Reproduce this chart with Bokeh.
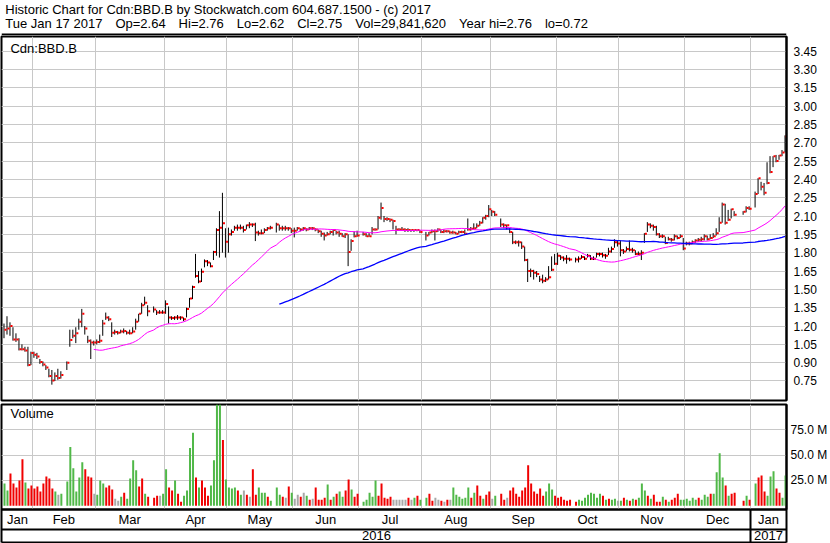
import pandas as pd
from bokeh.plotting import figure
from bokeh.layouts import column
from bokeh.models import (ColumnDataSource, FixedTicker, Label, LinearAxis,
                          PrintfTickFormatter, Range1d, Span)
from bokeh.embed import file_html
from bokeh.resources import INLINE

FONT = "Liberation Sans"
GAP = "\u2002\u2002"  # wide field separator that survives SVG whitespace collapsing

HEADER_LINE_1 = "Historic Chart for Cdn:BBD.B by Stockwatch.com 604.687.1500 - (c) 2017"
HEADER_LINE_2 = GAP.join(["Tue Jan 17 2017", "Op=2.64", "Hi=2.76", "Lo=2.62", "Cl=2.75",
                          "Vol=29,841,620", "Year hi=2.76", "lo=0.72"])
SYMBOL = "Cdn:BBD.B"

# one slot per weekday on the time axis; market holidays keep an empty slot
MONTH_LABELS = ["Jan", "Feb", "Mar", "Apr", "May", "Jun", "Jul",
                "Aug", "Sep", "Oct", "Nov", "Dec", "Jan"]
MONTH_SLOTS = [10, 21, 23, 21, 22, 22, 21, 23, 22, 21, 22, 22, 12]
YEAR_LABELS = ["2016", "2017"]
YEAR_MONTHS = [12, 1]

PRICE_TICKS = [0.75, 0.90, 1.05, 1.20, 1.35, 1.50, 1.65, 1.80, 1.95, 2.10,
               2.25, 2.40, 2.55, 2.70, 2.85, 3.00, 3.15, 3.30, 3.45]
VOLUME_TICKS = [25, 50, 75]
VOLUME_TICK_LABELS = ["25.0 M", "50.0 M", "75.0 M"]

# daily high / low / close, None on holidays
HIGH = [
    1.22, 1.28, 1.23, 1.19, 1.14, 1.10, 1.05, 1.03, 1.03, 0.99,
    0.99, 0.98, 0.93, 0.91, 0.88, 0.85, 0.84, 0.82, 0.85, 0.83, None,
    0.91, 1.17, 1.17, 1.19, 1.26, 1.34, 1.20, 1.12, 1.09, 1.08,
    1.09, 1.13, 1.25, 1.31, 1.28, 1.23, 1.17, 1.16, 1.17, 1.18, 1.16, 1.17,
    1.19, 1.26, 1.30, 1.39, 1.44, 1.37, None, 1.36, 1.33, 1.33, 1.33,
    1.41, 1.36, 1.28, 1.28, 1.29, 1.28, 1.27, 1.35, 1.43, 1.53, 1.79, 1.65,
    1.67, 1.745, 1.74, 1.72, 1.815, 2.00, 2.14, 2.29, 2.00,
    2.005, 1.99, 2.02, 2.03, 2.03, 2.02, 2.03, 2.05, 2.04, 2.045, 1.98, 1.99,
    2.00, 2.01, 2.02, None, 2.045, 2.03, 2.02, 2.02, 2.01, 2.00,
    2.005, 2.01, 2.00, 2.01, 2.00, 2.01, 2.01, 2.00, 1.99, 1.98, 1.965, 1.97,
    1.98, 1.99, 1.98, 1.98, 1.96, 1.96, 1.95, 1.91, 1.975, 1.98,
    None, 1.97, 1.96, 1.96, 2.01, 2.00, 2.10, 2.21, 2.10, 2.09, 2.08, 2.07,
    2.02, 2.00, 2.01, 2.00, 2.00, 1.99, 1.99, 1.99, 1.985,
    None, 1.97, 1.97, 1.99, 1.99, 2.00, 1.99, 1.99, 1.985, 1.98, 1.98, 1.97,
    1.98, 1.98, 1.99, 2.08, 2.01, 2.04, 2.04, 2.06, 2.09, 2.11, 2.19,
    2.15, 2.14, None, 2.08, 2.04, 2.03, 2.00, 1.97, 1.90, 1.90, 1.89, 1.85,
    1.75, 1.67, 1.66, 1.65, 1.61, 1.62, 1.60, 1.69, 1.77, 1.79,
    1.80, 1.78, 1.77, 1.78, 1.76, None, 1.76, 1.77, 1.78, 1.77, 1.79, 1.78,
    1.77, 1.80, 1.80, 1.80, 1.79, 1.84, 1.85, 1.91, 1.90,
    1.90, 1.83, 1.85, 1.90, 1.84, 1.82, 1.81, 1.82, 1.96, 2.05, 2.04, 2.03,
    2.02, 1.96, 1.95, 1.93, 1.93, 1.92, 1.95, 1.94, 1.95, 1.92,
    1.89, 1.89, 1.90, 1.91, 1.92, 1.93, 1.95, 1.94, 1.95, 1.96, 2.00, 2.09,
    2.21, 2.20, 2.15, 2.16, 2.14, None, None, 2.14, 2.18, 2.18,
    None, 2.30, 2.41, 2.38, 2.37, 2.54, 2.59, 2.59, 2.60, 2.60, 2.64, 2.76,
]
LOW = [
    1.10, 1.13, 1.12, 1.08, 1.07, 1.00, 1.00, 0.99, 0.87, 0.88,
    0.94, 0.93, 0.89, 0.87, 0.84, 0.78, 0.72, 0.75, 0.76, 0.77, None,
    0.84, 1.03, 1.10, 1.06, 1.17, 1.19, 1.13, 1.06, 0.93, 1.04,
    1.05, 1.06, 1.12, 1.25, 1.24, 1.11, 1.13, 1.13, 1.14, 1.14, 1.13, 1.13,
    1.14, 1.17, 1.235, 1.30, 1.37, 1.28, None, 1.31, 1.29, 1.30, 1.30,
    1.30, 1.22, 1.25, 1.25, 1.25, 1.25, 1.24, 1.27, 1.35, 1.42, 1.595, 1.55,
    1.56, 1.68, 1.69, 1.68, 1.74, 1.775, 1.76, 1.80, 1.76,
    1.80, 1.94, 1.98, 1.98, 1.99, 1.965, 1.99, 2.00, 2.01, 1.895, 1.94, 1.95,
    1.96, 1.98, 1.99, None, 1.965, 1.98, 1.98, 1.98, 1.98, 1.96,
    1.925, 1.98, 1.975, 1.98, 1.975, 1.985, 1.985, 1.975, 1.96, 1.93, 1.90,
    1.94, 1.95, 1.94, 1.95, 1.93, 1.93, 1.92, 1.69, 1.815, 1.925, 1.93,
    None, 1.94, 1.93, 1.93, 1.95, 1.98, 1.99, 2.07, 2.05, 2.06, 2.05, 1.99,
    1.95, 1.98, 1.98, 1.97, 1.97, 1.97, 1.97, 1.975, 1.96,
    None, 1.90, 1.94, 1.96, 1.90, 1.97, 1.96, 1.96, 1.965, 1.955, 1.955, 1.95,
    1.955, 1.96, 1.95, 1.98, 1.98, 1.99, 2.00, 2.02, 2.04, 2.07, 2.09,
    2.10, 2.10, None, 2.01, 2.00, 1.99, 1.96, 1.87, 1.87, 1.85, 1.83, 1.73,
    1.56, 1.60, 1.58, 1.60, 1.56, 1.55, 1.56, 1.58, 1.65, 1.70,
    1.70, 1.74, 1.73, 1.71, 1.73, None, 1.72, 1.72, 1.75, 1.74, 1.76, 1.74,
    1.74, 1.76, 1.77, 1.76, 1.75, 1.78, 1.80, 1.84, 1.85,
    1.77, 1.79, 1.81, 1.81, 1.80, 1.78, 1.78, 1.74, 1.88, 1.97, 2.00, 1.98,
    1.94, 1.92, 1.92, 1.87, 1.90, 1.89, 1.90, 1.91, 1.92, 1.82,
    1.86, 1.86, 1.87, 1.88, 1.89, 1.89, 1.90, 1.90, 1.91, 1.92, 1.94, 1.97,
    2.045, 2.03, 2.06, 2.08, 2.10, None, None, 2.11, 2.13, 2.15,
    None, 2.17, 2.28, 2.31, 2.27, 2.36, 2.45, 2.50, 2.54, 2.56, 2.59, 2.62,
]
CLOSE = [
    1.17, 1.18, 1.20, 1.09, 1.09, 1.01, 1.01, 1.00, 0.88, 0.98,
    0.965, 0.95, 0.905, 0.885, 0.86, 0.79, 0.755, 0.79, 0.775, 0.80, None,
    0.90, 1.085, 1.12, 1.14, 1.235, 1.30, 1.18, 1.08, 1.065, 1.065,
    1.07, 1.08, 1.22, 1.27, 1.255, 1.145, 1.15, 1.145, 1.155, 1.16, 1.145, 1.14,
    1.155, 1.235, 1.30, 1.37, 1.39, 1.32, None, 1.335, 1.31, 1.31, 1.31,
    1.38, 1.27, 1.265, 1.27, 1.27, 1.27, 1.255, 1.34, 1.425, 1.52, 1.61, 1.565,
    1.645, 1.73, 1.72, 1.69, 1.805, 1.985, 2.005, 2.04, 1.89,
    1.95, 1.97, 2.005, 2.005, 2.005, 1.985, 2.025, 2.03, 2.03, 1.965, 1.96,
    1.96, 1.985, 2.00, 2.005, None, 2.03, 2.00, 2.00, 2.00, 2.00, 1.98,
    1.98, 2.00, 1.99, 2.00, 1.99, 2.00, 2.00, 1.99, 1.975, 1.955, 1.94, 1.95,
    1.97, 1.985, 1.965, 1.955, 1.935, 1.95, 1.805, 1.895, 1.935, 1.94,
    None, 1.95, 1.935, 1.935, 1.99, 1.99, 2.085, 2.165, 2.075, 2.075, 2.07,
    2.06, 1.99, 1.99, 1.99, 1.985, 1.985, 1.985, 1.985, 1.985, 1.97,
    None, 1.94, 1.965, 1.975, 1.975, 1.99, 1.97, 1.975, 1.975, 1.965, 1.965,
    1.955, 1.97, 1.97, 1.955, 1.99, 1.995, 2.00, 2.02, 2.045, 2.085, 2.10, 2.155,
    2.135, 2.11, None, 2.03, 2.025, 2.025, 1.97, 1.885, 1.885, 1.885, 1.85,
    1.74, 1.65, 1.65, 1.635, 1.625, 1.58, 1.57, 1.58, 1.60, 1.66, 1.71,
    1.775, 1.76, 1.75, 1.75, 1.745, None, 1.745, 1.75, 1.765, 1.75, 1.775,
    1.75, 1.75, 1.79, 1.79, 1.78, 1.775, 1.81, 1.83, 1.885, 1.875,
    1.82, 1.81, 1.83, 1.825, 1.82, 1.79, 1.79, 1.80, 1.955, 2.03, 2.02, 2.01,
    1.95, 1.935, 1.935, 1.88, 1.91, 1.905, 1.935, 1.92, 1.935, 1.835,
    1.875, 1.875, 1.885, 1.90, 1.905, 1.91, 1.935, 1.91, 1.92, 1.935, 1.96,
    2.045, 2.195, 2.045, 2.07, 2.155, 2.11, None, None, 2.135, 2.165, 2.16,
    None, 2.28, 2.41, 2.34, 2.29, 2.37, 2.46, 2.59, 2.55, 2.595, 2.62, 2.75,
]
# daily volume in millions of shares
VOLUME_M = [
    22, 15, 32, 22, 18, 25, 46, 23, 17, 20,
    17, 19, 14, 22, 29, 27, 17, 14, 11, 12, None,
    24, 58, 37, 14, 28, 43, 36, 29, 28, 12,
    11, 25, 22, 18, 20, 16, 7, 5, 9, 13, 7, 27, 45, 35, 19, 27, 12, 9, None,
    8, 10, 10, 12,
    36, 18, 15, 25, 12, 4, 10, 15, 57, 72, 28, 18, 25, 18, 10, 20, 45, 105,
    110, 65, 26,
    18, 17, 18, 15, 11, 15, 11, 9, 36, 11, 18, 13, 13, 9, 5, None,
    18, 11, 9, 8, 19, 13,
    7, 11, 9, 13, 10, 6, 7, 18, 6, 6, 8, 21, 6, 9, 12, 14, 9, 15, 26, 16, 9, 12,
    None, 4, 6, 13, 9, 25, 10, 22, 8, 7, 9, 6, 6, 6, 6, 6, 8, 6, 8, 10, 6,
    None, 8, 12, 5, 8, 6, 5, 4, 6, 6, 18, 11, 9, 7, 8, 18, 8, 13, 20, 10, 7,
    11, 14,
    7, 10, None, 12, 6, 8, 15, 18, 12, 9, 15, 18, 40, 22, 14, 12, 17, 10, 14,
    22, 16, 10,
    8, 9, 6, 5, 6, None, 4, 6, 5, 8, 11, 13, 12, 8, 12, 10, 6, 7, 6, 7, 5,
    5, 8, 6, 5, 7, 6, 8, 22, 15, 10, 7, 11, 4, 4, 9, 6, 4, 6, 8, 12, 6, 6,
    7, 5, 8, 6, 8, 6, 11, 9, 12, 12, 33, 52, 28, 20, 10, 12, 13, None, None,
    5, 10, 6,
    None, 22, 28, 30, 14, 10, 29, 34, 17, 13, 8, 29.84162,
]
# volume bar tone: g = up day, r = down day, n = unchanged, - = holiday
VOL_TONE = list(
    "ggrrrrrgrr"
    "rrrrrrrgng-ggggggrrrn"
    "gggrrrnngrggggrrgr-rrng"
    "grrgrrggggrgrrrggggrg"
    "gggrgnrnrrgggrg-ggrnrg"
    "nnrngrnrrrrgrgrggrrgrr"
    "-gggggrrrrrnnnnnrngrg"
    "-grrnnrnrnggggggrgrrgrr"
    "ng-rrnrrrrrrrrrrrrgggr"
    "rrrrr-rggggggggrgrggn"
    "grgrgrgggrgrrrgrgrrrgg"
    "ggggrgggrggggrgrr--rgr"
    "-grrrgggrrgg"
)

TONE_COLOURS = {"g": "#50B848", "r": "#F00000", "n": "#A8A8A8"}
GRID = "#C8C8C8"

n_slots = sum(MONTH_SLOTS)
slots = list(range(n_slots))

month_starts = [0]
for n in MONTH_SLOTS:
    month_starts.append(month_starts[-1] + n)
month_edges = [s - 0.5 for s in month_starts[1:-1]]
month_centres = [s + n / 2 - 0.5 for s, n in zip(month_starts, MONTH_SLOTS)]

year_slots, k = [], 0
for m in YEAR_MONTHS:
    year_slots.append(sum(MONTH_SLOTS[k:k + m]))
    k += m
year_starts = [0]
for n in year_slots:
    year_starts.append(year_starts[-1] + n)
year_edges = [s - 0.5 for s in year_starts[1:-1]]
year_centres = [s + n / 2 - 0.5 for s, n in zip(year_starts, year_slots)]

df = pd.DataFrame({"x": slots, "high": HIGH, "low": LOW, "close": CLOSE,
                   "vol": VOLUME_M, "tone": VOL_TONE})
df[["high", "low", "close", "vol"]] = df[["high", "low", "close", "vol"]].astype(float)
trades = df.dropna(subset=["close"]).copy()
trades["ma30"] = trades["close"].rolling(30).mean()
trades["ma90"] = trades["close"].rolling(90).mean()
trades["tick_x0"] = trades["x"] + 1 / 6
trades["tick_x1"] = trades["x"] + 0.85
trades["bar_x"] = trades["x"] + 1 / 6
trades["colour"] = trades["tone"].map(TONE_COLOURS)
src = ColumnDataSource(trades)

# 3 px per slot, frame starts one pixel in from the left edge
x_range = Range1d(-0.5 - 1 / 3, n_slots - 0.5)
edge_ticks = [x_range.start + 0.02, x_range.end - 0.02]

# ---- header -------------------------------------------------------------
header = figure(width=830, height=35, x_range=Range1d(0, 830), y_range=Range1d(35, 0),
                x_axis_location=None, y_axis_location=None, min_border=0,
                output_backend="svg", toolbar_location=None)
header.grid.visible = False
header.outline_line_color = None
for y, txt in ((9, HEADER_LINE_1), (23, HEADER_LINE_2)):
    header.add_layout(Label(x=4, y=y, text=txt, text_font=FONT, text_font_size="13px",
                            text_color="black", text_baseline="middle"))
header.add_layout(Span(location=34, dimension="width", line_color="black", line_width=2))

# ---- price panel --------------------------------------------------------
price = figure(width=830, height=367, x_range=x_range, y_range=Range1d(0.5904, 3.5691),
               x_axis_location=None, y_axis_location=None,
               min_border_left=1, min_border_right=42, min_border_top=1, min_border_bottom=2,
               output_backend="svg", toolbar_location=None)
price.outline_line_color = "black"
price.outline_line_width = 2
price.xgrid.ticker = FixedTicker(ticks=month_edges)
price.ygrid.ticker = FixedTicker(ticks=PRICE_TICKS)
price.grid.grid_line_color = GRID
price.grid.grid_line_width = 1

price_axis = LinearAxis(ticker=FixedTicker(ticks=PRICE_TICKS),
                        formatter=PrintfTickFormatter(format="%.2f"),
                        major_tick_out=0, major_tick_in=0, minor_tick_out=0, minor_tick_in=0,
                        axis_line_color="black", axis_line_width=2, major_label_standoff=7,
                        major_label_text_font=FONT, major_label_text_font_size="12px",
                        major_label_text_color="black")
price.add_layout(price_axis, "right")

price.segment(x0="x", y0="low", x1="x", y1="high", source=src,
              line_color="black", line_width=1)
price.segment(x0="tick_x0", y0="close", x1="tick_x1", y1="close", source=src,
              line_color="#FF0000", line_width=2)
price.line("x", "ma30", source=src, line_color="#FF00FF", line_width=1)
price.line("x", "ma90", source=src, line_color="#0000FF", line_width=1.3)

price.add_layout(Label(x=x_range.start + 3, y=3.47, text=SYMBOL, text_font=FONT,
                       text_font_size="13px", text_color="black", text_baseline="middle"))

# ---- volume panel -------------------------------------------------------
vol = figure(width=830, height=141, x_range=x_range, y_range=Range1d(-3.65, 100),
             x_axis_location=None, y_axis_location=None,
             min_border_left=1, min_border_right=42, min_border_top=2, min_border_bottom=34,
             output_backend="svg", toolbar_location=None)
vol.outline_line_color = "black"
vol.outline_line_width = 2
vol.xgrid.ticker = FixedTicker(ticks=month_edges)
vol.ygrid.ticker = FixedTicker(ticks=VOLUME_TICKS)
vol.grid.grid_line_color = GRID
vol.grid.grid_line_width = 1

vol_axis = LinearAxis(ticker=FixedTicker(ticks=VOLUME_TICKS),
                      major_label_overrides=dict(zip(VOLUME_TICKS, VOLUME_TICK_LABELS)),
                      major_tick_out=0, major_tick_in=0, minor_tick_out=0, minor_tick_in=0,
                      axis_line_color="black", axis_line_width=2, major_label_standoff=4,
                      major_label_text_font=FONT, major_label_text_font_size="12px",
                      major_label_text_color="black")
vol.add_layout(vol_axis, "right")

# month row: the long minor ticks draw the frame edges and the year divider down
# through both label rows; the negative standoff pulls the labels back up
month_axis = LinearAxis(ticker=FixedTicker(ticks=month_centres,
                                           minor_ticks=edge_ticks + year_edges),
                        major_label_overrides=dict(zip(month_centres, MONTH_LABELS)),
                        major_tick_out=0, major_tick_in=0, minor_tick_in=0, minor_tick_out=33,
                        minor_tick_line_color="black", minor_tick_line_width=2,
                        axis_line_color="black", axis_line_width=2, major_label_standoff=-31,
                        major_label_text_font=FONT, major_label_text_font_size="13px",
                        major_label_text_color="black")
year_axis = LinearAxis(ticker=FixedTicker(ticks=year_centres),
                       major_label_overrides=dict(zip(year_centres, YEAR_LABELS)),
                       major_tick_out=0, major_tick_in=0, minor_tick_out=0, minor_tick_in=0,
                       axis_line_color="black", axis_line_width=2, major_label_standoff=1,
                       major_label_text_font=FONT, major_label_text_font_size="13px",
                       major_label_text_color="black")
base_axis = LinearAxis(ticker=FixedTicker(ticks=[]), major_tick_out=0, major_tick_in=0,
                       minor_tick_out=0, minor_tick_in=0, major_label_standoff=0,
                       axis_line_color="black", axis_line_width=2)
vol.add_layout(month_axis, "below")
vol.add_layout(year_axis, "below")
vol.add_layout(base_axis, "below")

vol.vbar(x="bar_x", top="vol", bottom=0, width=2 / 3, source=src,
         fill_color="colour", line_color=None)
vol.add_layout(Label(x=x_range.start + 3, y=91, text="Volume", text_font=FONT,
                     text_font_size="13px", text_color="black", text_baseline="middle"))

layout = column(header, price, vol, spacing=0)
open("out.html", "w").write(file_html(layout, INLINE))
